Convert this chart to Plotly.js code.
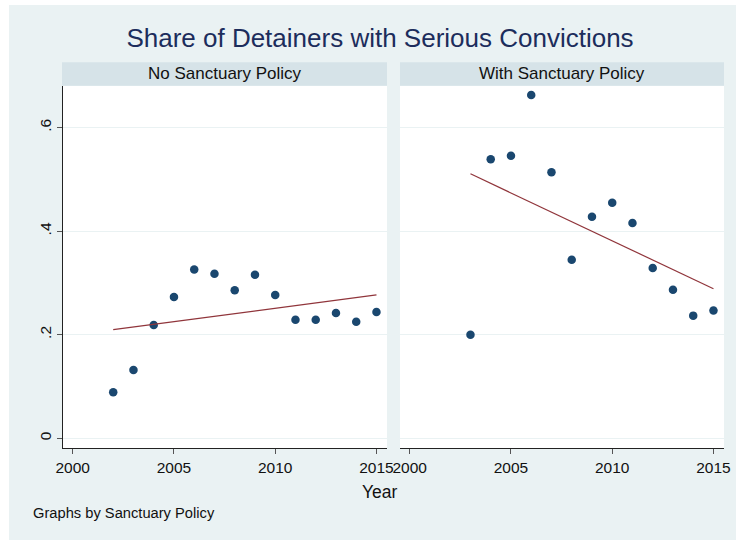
<!DOCTYPE html>
<html>
<head>
<meta charset="utf-8">
<script src="https://cdn.plot.ly/plotly-3.0.1.min.js"></script>
<style>html,body{margin:0;padding:0;background:#fff;}#chart{width:736px;height:540px;}</style>
</head>
<body>
<div id="chart"></div>
<script>
// ---- data ----
const panelNames = ["No Sanctuary Policy", "With Sanctuary Policy"];
const yearsNo = [2002, 2003, 2004, 2005, 2006, 2007, 2008, 2009, 2010, 2011, 2012, 2013, 2014, 2015];
const shareNo = [0.089, 0.132, 0.219, 0.273, 0.326, 0.318, 0.286, 0.316, 0.277, 0.229, 0.229, 0.242, 0.225, 0.244];
const yearsWith = [2003, 2004, 2005, 2006, 2007, 2008, 2009, 2010, 2011, 2012, 2013, 2014, 2015];
const shareWith = [0.200, 0.539, 0.546, 0.663, 0.514, 0.345, 0.428, 0.455, 0.416, 0.329, 0.287, 0.237, 0.247];
const fitYearsNo = [2002, 2015];
const fitNo = [0.210, 0.277];
const fitYearsWith = [2003, 2015];
const fitWith = [0.511, 0.289];
const xTickVals = [2000, 2005, 2010, 2015];
const xTickText = ["2000", "2005", "2010", "2015"];
const yTickVals = [0, 0.2, 0.4, 0.6];
const yTickText = ["0", ".2", ".4", ".6"];

// ---- layout geometry (pixels -> paper, margins are zero) ----
const W = 736, H = 540;
const px = v => v / W;
const py = v => 1 - v / H;
const leftDom = [px(63), px(387)];
const rightDom = [px(400), px(724)];
const yDom = [py(448.3), py(86)];

const FONT = '"Liberation Sans", Arial, Helvetica, sans-serif';
const navy = '#1A476F';
const maroon = '#90353B';
const bg = '#EAF2F3';
const stripCol = '#D6E3E8';
const gridCol = '#EAF2F3';

const markerStyle = {color: navy, size: 8.5, line: {width: 0}};
const lineStyle = {color: maroon, width: 1.2};

const traces = [
  {x: yearsNo, y: shareNo, type: 'scatter', mode: 'markers', marker: markerStyle, xaxis: 'x', yaxis: 'y', showlegend: false, hoverinfo: 'skip'},
  {x: fitYearsNo, y: fitNo, type: 'scatter', mode: 'lines', line: lineStyle, xaxis: 'x', yaxis: 'y', showlegend: false, hoverinfo: 'skip'},
  {x: yearsWith, y: shareWith, type: 'scatter', mode: 'markers', marker: markerStyle, xaxis: 'x2', yaxis: 'y2', showlegend: false, hoverinfo: 'skip'},
  {x: fitYearsWith, y: fitWith, type: 'scatter', mode: 'lines', line: lineStyle, xaxis: 'x2', yaxis: 'y2', showlegend: false, hoverinfo: 'skip'}
];

const xRange = [1999.52, 2015.52];
const yRange = [-0.0193, 0.6806];

function xAxis(dom, anchor) {
  return {
    domain: dom, anchor: anchor, range: xRange, fixedrange: true,
    tickmode: 'array', tickvals: xTickVals, ticktext: xTickText,
    ticks: 'outside', ticklen: 5, tickwidth: 1, tickcolor: '#555',
    showline: true, linecolor: '#222', linewidth: 1,
    showgrid: false, zeroline: false,
    tickfont: {family: FONT, size: 15.5, color: '#111'}
  };
}
function yAxis(anchor, labels) {
  return {
    domain: yDom, anchor: anchor, range: yRange, fixedrange: true,
    tickmode: 'array', tickvals: yTickVals, ticktext: yTickText,
    ticks: labels ? 'outside' : '', ticklen: 5, tickwidth: 1, tickcolor: '#555',
    showticklabels: labels, tickangle: -90,
    showline: labels, linecolor: '#222', linewidth: 1,
    showgrid: true, gridcolor: gridCol, gridwidth: 1.3, zeroline: false,
    tickfont: {family: FONT, size: 15.5, color: '#111'}
  };
}

const shapes = [
  {type: 'rect', xref: 'paper', yref: 'paper', x0: px(9), x1: 1, y0: 0, y1: py(5), fillcolor: bg, line: {width: 0}, layer: 'below'},
  {type: 'rect', xref: 'paper', yref: 'paper', x0: leftDom[0], x1: leftDom[1], y0: yDom[0], y1: yDom[1], fillcolor: '#FFFFFF', line: {width: 0}, layer: 'below'},
  {type: 'rect', xref: 'paper', yref: 'paper', x0: rightDom[0], x1: rightDom[1], y0: yDom[0], y1: yDom[1], fillcolor: '#FFFFFF', line: {width: 0}, layer: 'below'},
  {type: 'rect', xref: 'paper', yref: 'paper', x0: px(62), x1: leftDom[1], y0: py(85.7), y1: py(62.3), fillcolor: stripCol, line: {width: 0}, layer: 'below'},
  {type: 'rect', xref: 'paper', yref: 'paper', x0: rightDom[0], x1: rightDom[1], y0: py(85.7), y1: py(62.3), fillcolor: stripCol, line: {width: 0}, layer: 'below'}
];

const annotations = [
  {text: panelNames[0], xref: 'paper', yref: 'paper', x: px(224.5), y: py(73.5), xanchor: 'center', yanchor: 'middle', showarrow: false, font: {family: FONT, size: 17, color: '#111'}},
  {text: panelNames[1], xref: 'paper', yref: 'paper', x: px(562), y: py(73.5), xanchor: 'center', yanchor: 'middle', showarrow: false, font: {family: FONT, size: 17, color: '#111'}},
  {text: 'Year', xref: 'paper', yref: 'paper', x: px(379.5), y: py(492), xanchor: 'center', yanchor: 'middle', showarrow: false, font: {family: FONT, size: 17.5, color: '#111'}},
  {text: 'Graphs by Sanctuary Policy', xref: 'paper', yref: 'paper', x: px(31), y: py(512.5), xanchor: 'left', yanchor: 'middle', showarrow: false, font: {family: FONT, size: 14.7, color: '#111'}}
];

const layout = {
  width: W, height: H,
  margin: {l: 0, r: 0, t: 0, b: 0, pad: 0},
  paper_bgcolor: '#FFFFFF',
  plot_bgcolor: 'rgba(0,0,0,0)',
  title: {text: 'Share of Detainers with Serious Convictions', x: px(380), xanchor: 'center', xref: 'paper', y: py(38), yanchor: 'middle', yref: 'container', font: {family: FONT, size: 26, color: '#1C2D5C'}},
  xaxis: xAxis(leftDom, 'y'),
  yaxis: yAxis('x', true),
  xaxis2: xAxis(rightDom, 'y2'),
  yaxis2: yAxis('x2', false),
  shapes: shapes,
  annotations: annotations,
  showlegend: false
};

Plotly.newPlot('chart', traces, layout, {displayModeBar: false, staticPlot: true});
</script>
</body>
</html>
